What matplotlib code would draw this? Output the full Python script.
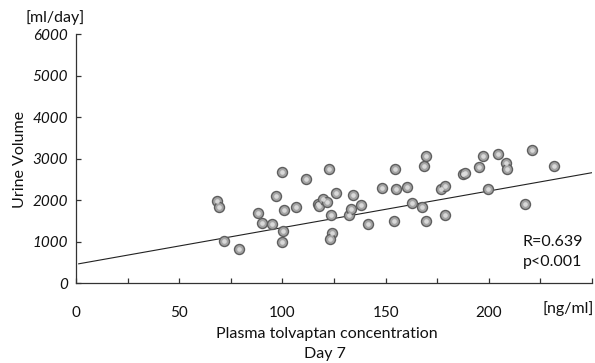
import matplotlib
matplotlib.use("Agg")
import matplotlib.pyplot as plt

plt.rcParams['font.family'] = ['Lato', 'DejaVu Sans']

# Plasma tolvaptan concentration (ng/ml), Day 7
conc = [68.5, 69.3, 71.9, 79.0, 88.4, 89.9, 94.9, 96.7, 99.6, 101.0,
        100.5, 99.6, 106.5, 111.4, 117.2, 117.9, 119.7, 121.8, 122.6, 125.8,
        123.5, 124.0, 123.1, 132.4, 133.1, 134.4, 138.3, 141.3, 148.3, 154.6,
        155.1, 154.1, 160.3, 162.7, 167.6, 168.5, 169.8, 169.4, 177.0, 178.7,
        178.9, 187.6, 188.6, 195.3, 197.0, 199.6, 204.3, 208.2, 208.7, 217.3,
        221.0, 231.7]
# Urine volume (ml/day)
urine = [1991, 1847, 1011, 827, 1694, 1445, 1421, 2112, 2674, 1774,
         1268, 987, 1839, 2521, 1911, 1863, 2039, 1959, 2746, 2184,
         1646, 1204, 1075, 1654, 1798, 2136, 1887, 1429, 2304, 2746,
         2272, 1501, 2320, 1935, 1839, 2819, 3067, 1501, 2272, 2353,
         1646, 2642, 2666, 2794, 3067, 2280, 3116, 2899, 2762, 1919,
         3212, 2819]

# regression line
reg_intercept = 458
reg_slope = 8.83
reg_x = [1.3, 250]

x_ticks = [0, 50, 100, 150, 200]
x_minor = [0, 25, 50, 75, 100, 125, 150, 175, 200, 225, 250]
y_ticks = [0, 1000, 2000, 3000, 4000, 5000, 6000]

fig = plt.figure(figsize=(5.95, 3.63), dpi=100)
ax = fig.add_axes([76/595, 1 - 283.3/363, (592 - 76)/595, (283.3 - 34.3)/363])

ax.plot(reg_x, [reg_intercept + reg_slope * v for v in reg_x],
        color='#222222', lw=0.8, zorder=2)
ax.plot(conc, urine, 'o', ms=7.2, mfc='#a4a4a4', mec='#5e5e5e', mew=1.0,
        ls='none', zorder=3)
ax.plot(conc, urine, 'o', ms=3.3, mfc='#e0e0e0', mec='none', ls='none',
        zorder=4, alpha=0.9)

ax.set_xlim(0, 250)
ax.set_ylim(0, 6000)
for s in ['top', 'right']:
    ax.spines[s].set_visible(False)
for s in ['left', 'bottom']:
    ax.spines[s].set_color('#333333')
    ax.spines[s].set_linewidth(0.9)

ax.set_xticks(x_minor)
ax.set_xticklabels([str(v) if v in x_ticks else '' for v in x_minor])
ax.set_yticks(y_ticks)
ax.set_yticklabels([str(v) for v in y_ticks], fontstyle='italic')
ax.tick_params(axis='both', direction='in', length=3.5, width=0.9,
               color='#333333', labelsize=11, labelcolor='#111111')
ax.tick_params(axis='x', pad=16)
ax.tick_params(axis='y', pad=6)

fs = 11.5
fig.text(55/595, 1 - 18/363, '[ml/day]', fontsize=fs, ha='center', va='center', color='#111111')
fig.text(20/595, 1 - 160/363, 'Urine Volume', fontsize=fs, rotation=90,
         ha='center', va='center', color='#111111')
fig.text(594/595, 1 - 309/363, '[ng/ml]', fontsize=fs, ha='right', va='center', color='#111111')
fig.text(327/595, 1 - 334/363, 'Plasma tolvaptan concentration', fontsize=fs,
         ha='center', va='center', color='#111111')
fig.text(325/595, 1 - 354/363, 'Day 7', fontsize=fs, ha='center', va='center', color='#111111')
fig.text(523/595, 1 - 242/363, 'R=0.639', fontsize=fs, ha='left', va='center', color='#111111')
fig.text(523/595, 1 - 262/363, 'p<0.001', fontsize=fs, ha='left', va='center', color='#111111')

fig.savefig('out.png', dpi=100)
